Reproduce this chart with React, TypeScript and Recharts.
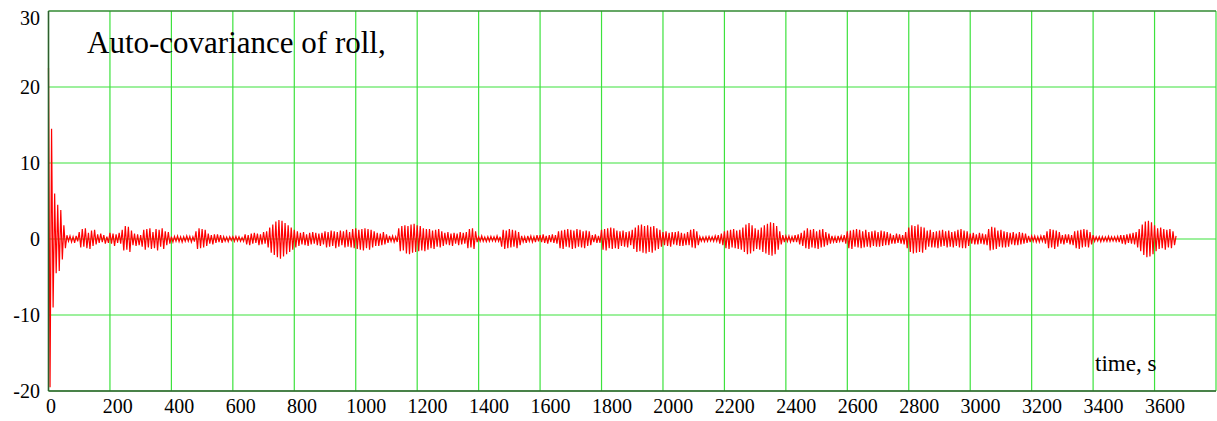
import React from 'react';
import {
  LineChart,
  Line,
  XAxis,
  YAxis,
  CartesianGrid,
  ReferenceLine,
} from 'recharts';

// auto-covariance of roll, one value every 5 s in 400 s chunks
const stepSec = 5;

const chunk0000 = [
  22.5, -19.5, 14.5, -9, 6, -4.5, 4.5, -4.2, 3.8, -2.7, 1.8, -1.2,
  0.5, -0.3, 0.4, -0.4, 0.3, -0.5, 0.4, -0.3,
  0.9, -1.1, 1.3, -1.0, 1.4, -1.2, 0.8, -1.3, 1.1, -0.9, 1.2, -0.7,
  0.6, -0.5, 0.7, -0.4, 0.5, -0.6, 0.3, -0.5,
  0.8, -0.6, 0.7, -0.9, 0.6, -0.5, 0.8, -0.6,
  1.2, -1.5, 1.7, -1.4, 1.6, -1.7, 1.1,
  -0.8, 0.7, -0.9, 0.6, -0.8, 0.5,
  -1.0, 1.2, -1.4, 1.3, -1.1, 1.4, -1.3, 0.9, -1.2, 1.3, -1.5, 1.2, -1.0, 1.4, -1.3,
  1.0, -0.8, 0.9, -0.6,
];

const chunk0400 = [
  0.3, -0.4, 0.35, -0.3, 0.4, -0.35, 0.3, -0.4, 0.3, -0.3, 0.4, -0.3, 0.35, -0.4, 0.3, -0.35,
  1.0, -1.3, 1.4, -1.2, 1.3, -1.1, 1.2, -0.9,
  0.7, -0.6, 0.5, -0.7, 0.6, -0.5, 0.6, -0.4, 0.5, -0.5,
  0.3, -0.3, 0.25, -0.35, 0.3, -0.2, 0.3, -0.3, 0.35, -0.25, 0.3, -0.3, 0.2, -0.3,
  0.6, -0.7, 0.5, -0.8, 0.7, -0.6, 0.8, -0.5, 0.7, -0.8, 0.6, -0.7, 0.9, -0.6, 1.0, -1.1,
  1.5, -1.8, 1.9, -2.1, 2.3, -2.4, 2.5, -2.6, 2.4, -2.3, 2.1, -2.0, 1.8, -1.7, 1.5, -1.4,
];

const chunk0800 = [
  1.2, -1.1, 1.0, -0.9,
  0.8, -0.7, 0.9, -0.8, 0.6, -0.9, 0.8, -0.7, 0.9, -0.6, 0.8, -0.8, 0.7, -0.9, 0.8, -0.7,
  1.0, -1.1, 0.9, -1.0, 1.1, -0.9, 1.0, -1.2, 0.9, -1.0, 1.1, -0.8, 1.0, -1.1, 1.2, -1.0, 0.9, -1.1,
  1.3, -1.2, 1.4, -1.3, 1.2, -1.4, 1.3, -1.5, 1.4, -1.2, 1.3, -1.4, 1.2, -1.1, 1.0,
  -0.9, 0.8, -0.9, 0.7, -0.8, 0.9, -0.7, 0.6, -0.5,
  0.4, -0.3, 0.4, -0.4, 0.3, -0.4,
  1.4, -1.6, 1.7, -1.5, 1.8, -1.9, 1.7, -2.0, 1.9, -1.8, 2.0, -1.7,
];

const chunk1200 = [
  1.8, -1.6, 1.7, -1.5, 1.4, -1.6, 1.3, -1.4,
  1.3, -1.2, 1.1, -1.3, 1.2, -1.0, 1.3, -1.1, 1.0, -0.9,
  0.8, -0.7, 0.9, -0.8, 0.7, -0.9, 0.8, -0.6, 0.7, -0.8, 0.9, -0.7, 0.8, -0.6, 0.9,
  -1.2, 1.3, -1.1, 1.4, -1.3, 1.0,
  -0.4, 0.3, -0.3, 0.4, -0.3, 0.25, -0.35, 0.3, -0.3, 0.35, -0.25, 0.3, -0.3, 0.4, -0.3, 0.3,
  -1.0, 1.2, -1.3, 1.1, -1.2, 1.3, -1.1, 1.2, -1.0, 1.1, -1.2, 0.9, -0.8,
  0.4, -0.4, 0.3, -0.5, 0.4, -0.3, 0.4, -0.4, 0.3, -0.4, 0.5, -0.3,
];

const chunk1600 = [
  0.5, -0.4, 0.6, -0.5, 0.4, -0.6, 0.5, -0.4, 0.6, -0.5, 0.5, -0.6,
  1.0, -1.2, 1.1, -1.3, 1.2, -1.0, 1.3, -1.1, 1.2, -1.3, 1.1, -1.2, 1.3, -1.0, 1.2, -1.1, 1.0, -1.2, 1.1, -0.9, 1.0, -0.8,
  0.5, -0.4, 0.6, -0.5, 0.4, -0.5,
  1.2, -1.4, 1.3, -1.5, 1.4, -1.2, 1.5, -1.3, 1.4, -1.2, 1.1, -1.3,
  1.0, -0.9, 1.1, -1.0, 0.9, -1.1, 1.0, -0.8, 1.2, -1.3,
  1.5, -1.7, 1.8, -1.6, 1.9, -1.8, 1.7, -1.9, 1.8, -1.7, 1.6, -1.8, 1.7, -1.5, 1.4, -1.3, 1.2, -1.0,
];

const chunk2000 = [
  0.9, -0.8, 1.0, -0.9, 0.8, -1.0, 0.9, -0.7, 0.9, -0.8, 1.0, -0.9, 0.8, -0.9, 0.7, -0.8, 0.9, -0.8,
  1.2, -1.1, 1.3, -1.2, 1.0, -0.8,
  0.3, -0.3, 0.25, -0.35, 0.3, -0.3, 0.35, -0.25, 0.3, -0.3, 0.4, -0.3, 0.5, -0.6, 0.7, -0.8,
  1.0, -1.2, 1.1, -1.3, 1.2, -1.1, 1.3, -1.2, 1.1, -1.3, 1.2, -1.4, 1.5,
  -1.7, 1.9, -2.0, 2.1, -1.9, 1.8, -1.6, 1.4, -1.3, 1.2, -1.4, 1.5, -1.7, 1.8, -1.9, 2.0, -2.1, 2.2, -2.2, 2.1,
  -2.0, 1.7, -1.4, 1.0, -0.7, 0.5, -0.4,
];

const chunk2400 = [
  0.4, -0.3, 0.4, -0.4, 0.3, -0.4, 0.5, -0.4, 0.6, -0.7, 0.8, -0.9,
  1.1, -1.2, 1.4, -1.3, 1.2, -1.1, 1.3, -1.2, 1.0, -1.3, 1.2, -1.1, 1.3, -1.0, 0.9, -0.8, 0.7, -0.6,
  0.4, -0.4, 0.3, -0.5, 0.4, -0.3, 0.4, -0.4, 0.5, -0.6,
  1.0, -1.2, 1.1, -1.3, 1.2, -1.0, 1.3, -1.1, 1.2, -1.2, 1.0, -1.1, 1.2, -1.0, 0.9, -1.1,
  1.0, -0.9, 1.1, -1.0, 0.9, -1.0, 1.1, -0.9, 1.0, -0.8, 0.9, -0.8, 0.7,
  -0.6, 0.5, -0.6, 0.7, -0.5, 0.6, -0.6, 0.5, -0.7, 0.9, -1.2,
];

const chunk2800 = [
  1.5, -1.7, 1.8, -1.9, 1.7, -1.8, 1.9, -1.7, 1.6, -1.8, 1.5, -1.4,
  1.1, -1.0, 1.2, -1.1, 0.9, -1.1, 1.0, -1.2, 1.1, -1.0, 1.2, -0.9, 1.0, -1.1, 1.1, -1.0, 0.9, -1.1, 1.0, -0.9,
  1.2, -1.1, 1.3, -1.2, 1.1, -1.2, 1.0, -0.9,
  0.7, -0.6, 0.8, -0.7, 0.6, -0.7, 0.8, -0.6, 0.7, -0.7, 0.6, -0.8,
  1.3, -1.5, 1.6, -1.4, 1.5, -1.3,
  1.1, -1.0, 1.2, -1.1, 1.0, -1.1, 0.9, -1.0,
  0.8, -0.7, 0.9, -0.8, 0.7, -0.8, 0.9, -0.7, 0.8, -0.6, 0.7, -0.5, 0.4, -0.4,
];

const chunk3200 = [
  0.4, -0.3, 0.4, -0.4, 0.3, -0.4, 0.4, -0.3, 0.5, -0.6,
  1.0, -1.2, 1.3, -1.1, 1.2, -1.3, 1.1, -1.0, 0.9,
  -0.6, 0.5, -0.7, 0.6, -0.5, 0.6, -0.7, 0.5, -0.8,
  1.0, -1.2, 1.1, -1.3, 1.2, -1.1, 1.3, -1.0, 1.2, -1.1, 0.9, -0.7, 0.5,
  -0.3, 0.3, -0.25, 0.3, -0.35, 0.3, -0.3, 0.25, -0.3, 0.35, -0.3, 0.3, -0.25, 0.3, -0.3, 0.35, -0.4,
  0.5, -0.6, 0.5, -0.7, 0.6, -0.5, 0.7, -0.6, 0.8, -0.7, 0.9, -1.1, 1.3,
  -1.6, 1.9, -2.1, 2.3, -2.4, 2.4, -2.3, 2.2, -2.0,
];

const chunk3600 = [
  1.8, -1.6, 1.4, -1.3, 1.5, -1.2, 1.3, -1.4, 1.2, -1.1, 1.3, -1.2, 1.0, -0.8, 0.4,
];

const xTicks = [0, 200, 400, 600, 800, 1000, 1200, 1400, 1600, 1800, 2000, 2200, 2400, 2600, 2800, 3000, 3200, 3400, 3600, 3800];
const yTicks = [-20, -10, 0, 10, 20, 30];

const values = [
  ...chunk0000, ...chunk0400, ...chunk0800, ...chunk1200, ...chunk1600,
  ...chunk2000, ...chunk2400, ...chunk2800, ...chunk3200, ...chunk3600,
];
const data = values.map((v, i) => ({ t: i * stepSec, v }));

const FONT = '"Liberation Serif", "Times New Roman", serif';
const GRID = '#3de23d';
const AXIS = '#2e5e2e';

const XTick = (props: any) => {
  const { x, y, payload } = props;
  if (payload.value === 3800) return null;
  const label = String(payload.value);
  // mathcad puts the label a bit right of the grid line
  const shift = label.length * 2.6;
  return (
    <text x={x + shift} y={y} dy="0.71em" textAnchor="middle" fontFamily={FONT} fontSize={20} fill="#000">
      {label}
    </text>
  );
};

const YTick = (props: any) => {
  const { x, y, payload } = props;
  return (
    <text x={x} y={Math.max(y, 18)} dy="0.355em" textAnchor="end" fontFamily={FONT} fontSize={20} fill="#000">
      {payload.value}
    </text>
  );
};

export default function App() {
  return (
    <div style={{ position: 'absolute', left: 0, top: 0, width: 1217, height: 421, background: '#fff' }}>
      <LineChart width={1217} height={421} data={data} margin={{ top: 11, right: 1, bottom: 0, left: 0 }}>
        <CartesianGrid stroke={GRID} strokeWidth={1.2} />
        <XAxis
          dataKey="t"
          type="number"
          domain={[0, 3800]}
          ticks={xTicks}
          interval={0}
          height={30}
          tickSize={0}
          tickMargin={8}
          stroke={AXIS}
          strokeWidth={1.5}
          tick={<XTick />}
        />
        <YAxis
          type="number"
          domain={[-20, 30]}
          ticks={yTicks}
          interval={0}
          width={48.5}
          tickSize={0}
          tickMargin={8.5}
          stroke={AXIS}
          strokeWidth={1.5}
          tick={<YTick />}
        />
        <ReferenceLine y={30} stroke={AXIS} strokeWidth={1.2} />
        <Line
          dataKey="v"
          type="linear"
          stroke="#ff0000"
          strokeWidth={1.2}
          dot={false}
          isAnimationActive={false}
        />
      </LineChart>
      <svg
        width={1217}
        height={421}
        style={{ position: 'absolute', left: 0, top: 0, pointerEvents: 'none' }}
      >
        <text x={87} y={53} fontFamily={FONT} fontSize={31} fill="#000">
          Auto-covariance of roll,
        </text>
        <text x={1095} y={371} fontFamily={FONT} fontSize={23} fill="#000">
          time, s
        </text>
      </svg>
    </div>
  );
}
